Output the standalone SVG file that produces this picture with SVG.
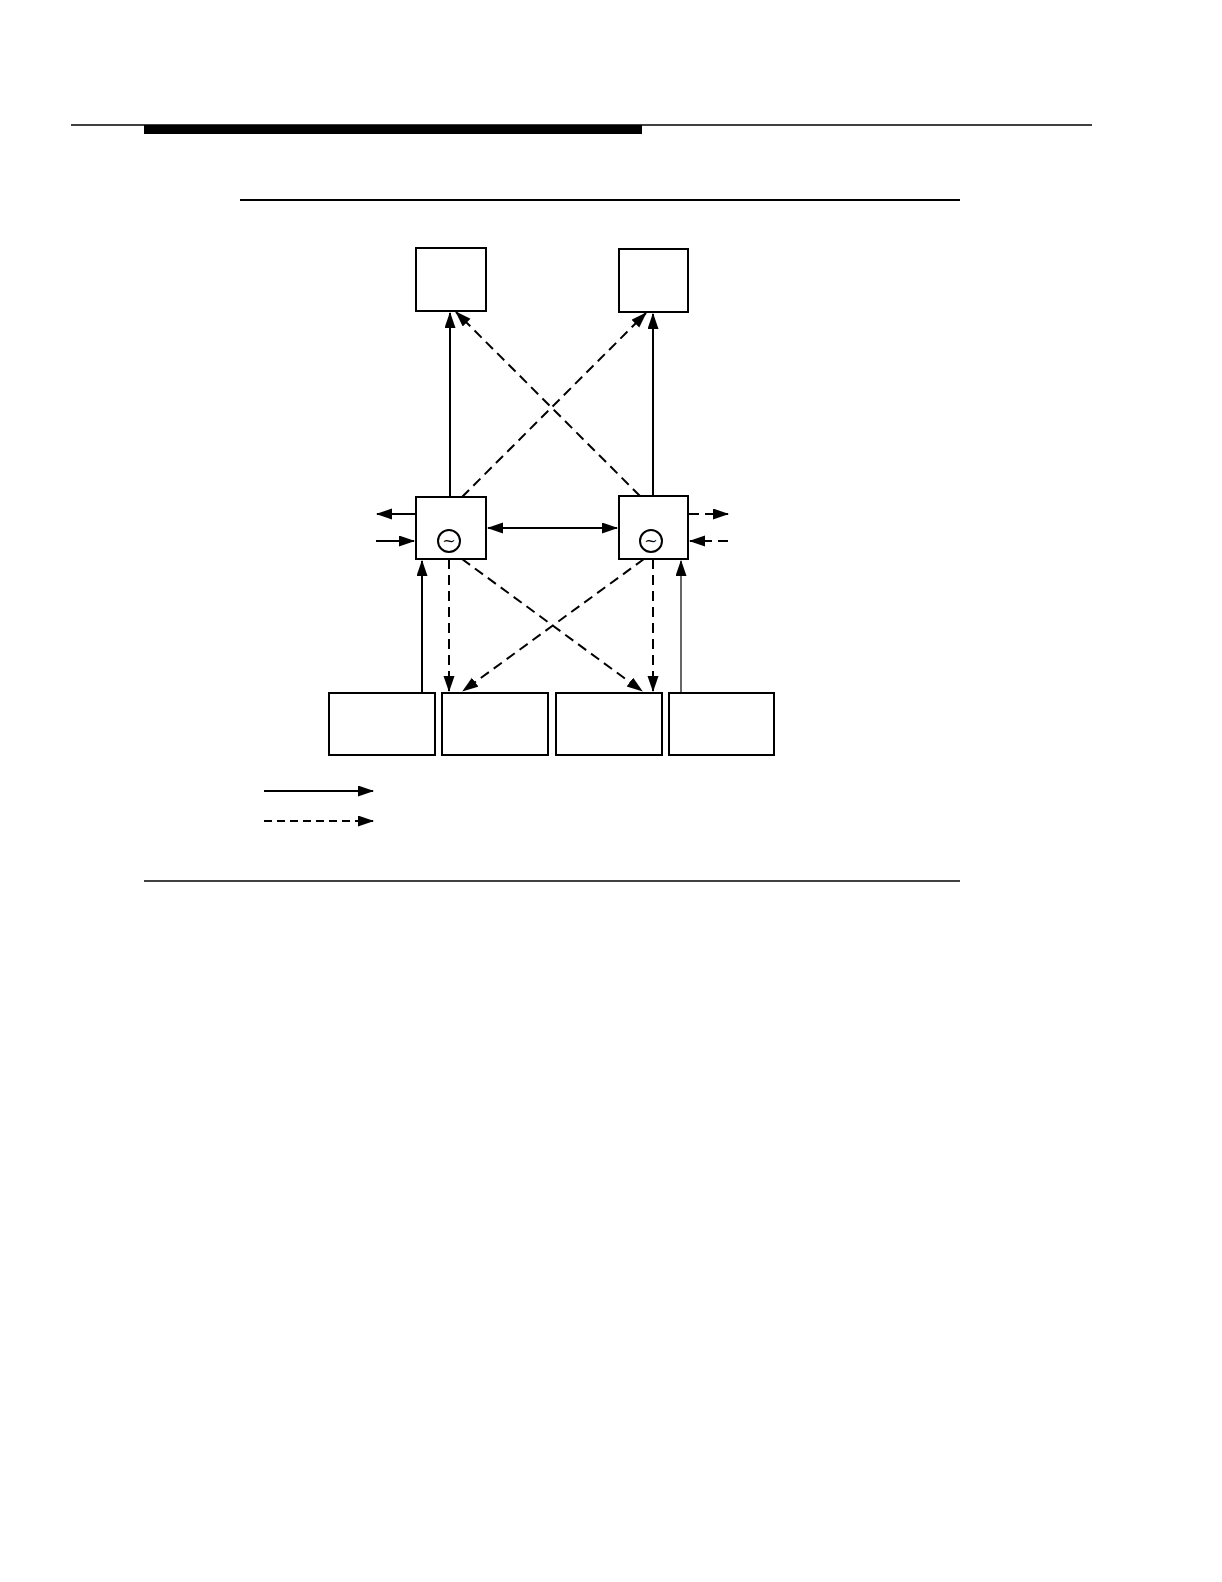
<svg xmlns="http://www.w3.org/2000/svg" width="1222" height="1582" viewBox="0 0 1222 1582">
<style>
.box{fill:#fff;stroke:#000;stroke-width:2}
.ln{fill:none;stroke:#000;stroke-width:2}
.thin{fill:none;stroke:#000;stroke-width:1.2}
.dash{fill:none;stroke:#000;stroke-width:2;stroke-dasharray:10 6}
.tl{font-family:"DejaVu Sans",sans-serif;font-size:16px;text-anchor:middle}
</style>
<defs>
<marker id="ah" markerUnits="userSpaceOnUse" markerWidth="16" markerHeight="12" refX="15" refY="5.5" orient="auto-start-reverse" viewBox="0 0 16 12">
<path d="M0,0 L16,5.5 L0,11 z" fill="#000"/>
</marker>
</defs>
<rect width="1222" height="1582" fill="#fff"/>
<g id="rules">
<line x1="71" y1="125" x2="1092" y2="125" stroke="#000" stroke-width="1.5"/>
<rect x="144" y="125" width="498" height="9" fill="#000"/>
<line x1="240" y1="200" x2="960" y2="200" stroke="#000" stroke-width="2"/>
<line x1="144" y1="881" x2="960" y2="881" stroke="#000" stroke-width="1.5"/>
</g>
<g id="connectors">
<line class="ln" x1="450" y1="497" x2="450" y2="313" marker-end="url(#ah)"/>
<line class="ln" x1="653" y1="496" x2="653" y2="314" marker-end="url(#ah)"/>
<line class="dash" x1="640" y1="496" x2="456" y2="312" marker-end="url(#ah)"/>
<line class="dash" x1="462" y1="497" x2="646" y2="313" marker-end="url(#ah)"/>
<line class="ln" x1="488" y1="528" x2="617" y2="528" marker-start="url(#ah)" marker-end="url(#ah)"/>
<line class="ln" x1="416" y1="514" x2="377" y2="514" marker-end="url(#ah)"/>
<line class="ln" x1="376" y1="541" x2="414" y2="541" marker-end="url(#ah)"/>
<line class="dash" x1="689" y1="514" x2="728" y2="514" marker-end="url(#ah)"/>
<line class="dash" x1="728" y1="541" x2="690" y2="541" marker-end="url(#ah)"/>
<line class="ln" x1="422" y1="693" x2="422" y2="561" marker-end="url(#ah)"/>
<line class="dash" x1="449" y1="559" x2="449" y2="691" marker-end="url(#ah)"/>
<line class="dash" x1="462" y1="559" x2="642" y2="691" marker-end="url(#ah)"/>
<line class="dash" x1="644" y1="559" x2="463" y2="691" marker-end="url(#ah)"/>
<line class="dash" x1="653" y1="559" x2="653" y2="691" marker-end="url(#ah)"/>
<line class="thin" x1="681" y1="692" x2="681" y2="561" marker-end="url(#ah)"/>
</g>
<g id="top1"><rect class="box" x="416" y="248" width="70" height="63"/></g>
<g id="top2"><rect class="box" x="619" y="249" width="69" height="63"/></g>
<g id="mid1"><rect class="box" x="416" y="497" width="70" height="62"/>
<circle cx="449" cy="541" r="11" fill="none" stroke="#000" stroke-width="2"/>
<text class="tl" x="449" y="546">~</text></g>
<g id="mid2"><rect class="box" x="619" y="496" width="69" height="63"/>
<circle cx="651" cy="541" r="11" fill="none" stroke="#000" stroke-width="2"/>
<text class="tl" x="651" y="546">~</text></g>
<g id="bot1"><rect class="box" x="329" y="693" width="106" height="62"/></g>
<g id="bot2"><rect class="box" x="442" y="693" width="106" height="62"/></g>
<g id="bot3"><rect class="box" x="556" y="693" width="106" height="62"/></g>
<g id="bot4"><rect class="box" x="669" y="693" width="105" height="62"/></g>
<g id="legend">
<line class="ln" x1="264" y1="791" x2="373" y2="791" marker-end="url(#ah)"/>
<line class="ln" x1="264" y1="821" x2="373" y2="821" stroke-dasharray="8 5" marker-end="url(#ah)"/>
</g>
</svg>
